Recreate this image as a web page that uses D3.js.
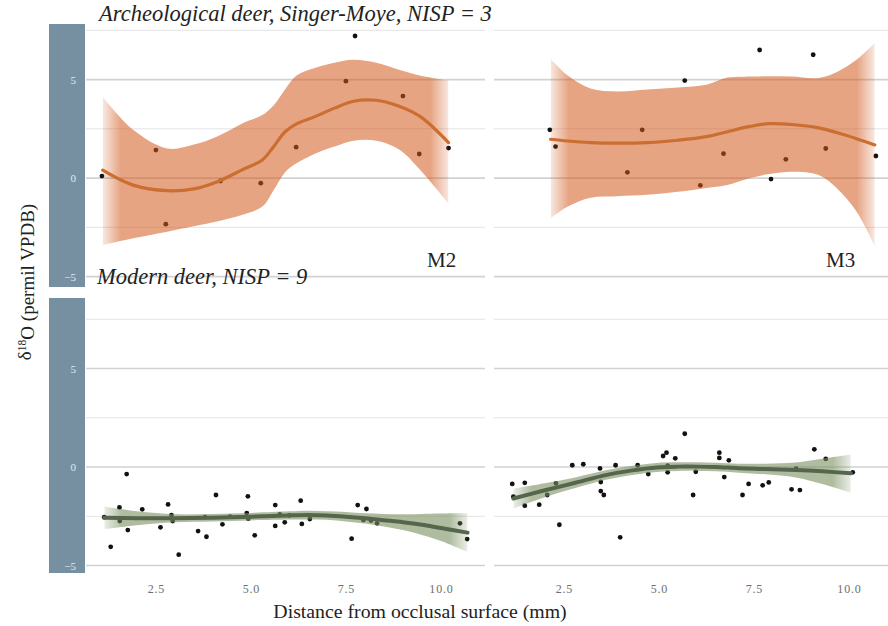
<!DOCTYPE html>
<html>
<head>
<meta charset="utf-8">
<script src="https://cdn.jsdelivr.net/npm/d3@7"></script>
<style>
  html, body { margin: 0; padding: 0; background: #fff; }
  svg { display: block; }
</style>
</head>
<body>
<svg id="chart" width="888" height="626"></svg>
<script>
// ---- measurements: δ18O (permil VPDB) by distance from occlusal surface (mm) ----

// Archeological deer, M2
const archM2X = [1.08, 2.5, 2.76, 4.2, 5.26, 6.19, 7.5, 7.74, 9.0, 9.43, 10.2];
const archM2Y = [0.1, 1.42, -2.34, -0.15, -0.26, 1.57, 4.92, 7.21, 4.16, 1.22, 1.52];
// Archeological deer, M3
const archM3X = [2.13, 2.28, 4.17, 4.56, 5.68, 6.09, 6.7, 7.65, 7.95, 8.34, 9.06, 9.39, 10.71];
const archM3Y = [2.45, 1.6, 0.29, 2.45, 4.95, -0.37, 1.24, 6.5, -0.05, 0.95, 6.26, 1.5, 1.12];
// Modern deer, M2
const modM2X = [1.14, 1.31, 1.54, 1.55, 1.73, 1.76, 2.14, 2.62, 2.82, 2.91, 2.94, 3.1, 3.61, 3.79, 3.83,
  4.08, 4.25, 4.45, 4.89, 4.92, 4.93, 5.1, 5.64, 5.64, 5.76, 5.89, 6.01, 6.31, 6.34, 6.55,
  7.65, 7.81, 7.96, 8.04, 8.16, 8.32, 10.5, 10.69];
const modM2Y = [-2.55, -4.05, -2.05, -2.74, -0.36, -3.2, -2.15, -3.06, -1.9, -2.44, -2.74, -4.45, -3.25, -2.55, -3.54,
  -1.42, -2.91, -2.52, -2.34, -1.49, -2.62, -3.47, -1.93, -2.99, -2.4, -2.81, -2.45, -1.71, -2.89, -2.64,
  -3.64, -1.93, -2.69, -2.13, -2.72, -2.86, -2.86, -3.66];
// Modern deer, M3
const modM3X = [1.14, 1.17, 1.47, 1.47, 1.85, 2.06, 2.29, 2.38, 2.72, 3.01, 3.45, 3.47, 3.47, 3.55, 3.86,
  3.98, 4.44, 4.72, 5.11, 5.2, 5.23, 5.23, 5.43, 5.68, 5.9, 5.97, 6.59, 6.59, 6.72, 6.84,
  7.2, 7.36, 7.73, 7.89, 8.49, 8.61, 8.71, 9.09, 9.39, 10.1];
const modM3Y = [-0.86, -1.51, -0.8, -1.96, -1.91, -1.42, -0.83, -2.93, 0.09, 0.14, -0.07, -0.76, -1.22, -1.42, 0.09,
  -3.57, 0.09, -0.36, 0.56, 0.73, 0.07, -0.27, 0.44, 1.69, -1.42, -0.24, 0.73, 0.46, -0.51, 0.34,
  -1.42, -0.86, -0.93, -0.78, -1.13, -0.08, -1.17, 0.9, 0.41, -0.27];

// ---- smoothed trends with confidence bands ----
const archM2FitX = [1.1, 1.9, 2.8, 3.5, 4.1, 4.8, 5.3, 5.6, 5.9, 6.2, 6.7, 7.2, 7.7, 8.3, 8.9, 9.45, 10.2];
const archM2Fit  = [0.4, -0.36, -0.64, -0.55, -0.2, 0.45, 0.92, 1.6, 2.35, 2.75, 3.13, 3.55, 3.9, 3.95, 3.65, 3.13, 1.8];
const archM2Hi   = [4.13, 2.45, 1.5, 1.7, 2.1, 2.8, 3.2, 3.7, 4.5, 5.2, 5.6, 5.85, 6.0, 5.85, 5.5, 5.2, 4.95];
const archM2Lo   = [-3.4, -3.06, -2.72, -2.45, -2.21, -1.85, -1.45, -0.6, 0.3, 0.75, 1.25, 1.6, 1.9, 1.9, 1.45, 0.42, -1.3];

const archM3FitX = [2.15, 2.6, 3.2, 3.9, 4.7, 5.5, 6.25, 6.8, 7.4, 7.9, 8.5, 9.2, 9.7, 10.2, 10.68];
const archM3Fit  = [1.97, 1.88, 1.8, 1.77, 1.8, 1.92, 2.1, 2.35, 2.62, 2.76, 2.72, 2.55, 2.3, 2.0, 1.68];
const archM3Hi   = [6.05, 5.2, 4.55, 4.4, 4.5, 4.6, 4.74, 5.1, 5.15, 5.17, 5.15, 5.08, 5.4, 6.0, 6.85];
const archM3Lo   = [-2.05, -1.45, -1.0, -0.92, -0.85, -0.7, -0.5, -0.35, 0.0, 0.2, 0.32, 0.15, -0.55, -1.7, -3.45];

const modM2FitX = [1.14, 2.0, 3.0, 4.0, 5.0, 6.0, 6.5, 7.0, 7.5, 8.0, 8.5, 9.0, 9.5, 10.0, 10.7];
const modM2Fit  = [-2.58, -2.6, -2.6, -2.57, -2.52, -2.46, -2.44, -2.46, -2.52, -2.6, -2.7, -2.8, -2.93, -3.1, -3.33];
const modM2Hi   = [-2.0, -2.25, -2.4, -2.38, -2.33, -2.25, -2.22, -2.24, -2.28, -2.35, -2.38, -2.4, -2.38, -2.36, -2.35];
const modM2Lo   = [-3.15, -2.95, -2.8, -2.76, -2.71, -2.67, -2.66, -2.68, -2.76, -2.87, -3.02, -3.2, -3.45, -3.75, -4.3];

const modM3FitX = [1.17, 2.0, 2.8, 3.6, 4.3, 4.94, 5.5, 6.0, 6.5, 7.1, 7.8, 8.6, 9.3, 10.05];
const modM3Fit  = [-1.6, -1.18, -0.8, -0.41, -0.17, -0.02, 0.02, 0.02, 0.0, -0.06, -0.1, -0.15, -0.22, -0.32];
const modM3Hi   = [-1.1, -0.83, -0.53, -0.17, 0.06, 0.21, 0.24, 0.24, 0.22, 0.17, 0.17, 0.23, 0.42, 0.63];
const modM3Lo   = [-2.1, -1.53, -1.07, -0.65, -0.4, -0.25, -0.2, -0.2, -0.22, -0.29, -0.37, -0.53, -0.86, -1.3];

// ---- axis ticks and labels ----
const xTicks = [2.5, 5.0, 7.5, 10.0];
const yMajor = [-5, 0, 5];
const yMinor = [-2.5, 2.5, 7.5];
const rowTitles = ["Archeological deer, Singer-Moye, NISP = 3", "Modern deer, NISP = 9"];
const toothLabels = ["M2", "M3"];
const xTitle = "Distance from occlusal surface (mm)";

const SERIF = "'Liberation Serif'";

// ---- layout ----
const svg = d3.select("#chart");
const defs = svg.append("defs");

const xScales = [
  d3.scaleLinear().domain([0.66, 11.16]).range([86, 485]),
  d3.scaleLinear().domain([0.66, 11.16]).range([494, 893])
];
const yScales = [
  d3.scaleLinear().domain([-5.53, 7.82]).range([287, 24]),
  d3.scaleLinear().domain([-5.38, 8.58]).range([573, 298])
];

const styles = [
  { fill: "#d25a1e", fillOpacity: 0.55, line: "#cb6e30", lineWidth: 3.2 },
  { fill: "#7a8f61", fillOpacity: 0.6, line: "#56664c", lineWidth: 4 }
];

const panels = [
  { row: 0, col: 0, px: archM2X, py: archM2Y, fx: archM2FitX, f: archM2Fit, hi: archM2Hi, lo: archM2Lo },
  { row: 0, col: 1, px: archM3X, py: archM3Y, fx: archM3FitX, f: archM3Fit, hi: archM3Hi, lo: archM3Lo },
  { row: 1, col: 0, px: modM2X, py: modM2Y, fx: modM2FitX, f: modM2Fit, hi: modM2Hi, lo: modM2Lo },
  { row: 1, col: 1, px: modM3X, py: modM3Y, fx: modM3FitX, f: modM3Fit, hi: modM3Hi, lo: modM3Lo }
];

// row strips carrying the y tick labels
[0, 1].forEach(r => {
  const y = yScales[r];
  svg.append("rect")
    .attr("x", 49).attr("y", y.range()[1])
    .attr("width", 36).attr("height", y.range()[0] - y.range()[1])
    .attr("fill", "#7690a1");
  const ax = svg.append("g")
    .attr("transform", "translate(78,0)")
    .call(d3.axisLeft(y).tickValues(yMajor).tickSize(0).tickPadding(2));
  ax.select(".domain").remove();
  ax.attr("font-family", SERIF);
  ax.selectAll("text")
    .attr("fill", "#e3e9ee")
    .style("font-family", SERIF)
    .style("font-size", "11px");
});

// horizontal grid lines
panels.forEach(p => {
  const x = xScales[p.col], y = yScales[p.row];
  const g = svg.append("g");
  g.selectAll("line.minor").data(yMinor).join("line")
    .attr("x1", x.range()[0]).attr("x2", x.range()[1])
    .attr("y1", d => y(d)).attr("y2", d => y(d))
    .attr("stroke", "#e3e3e3").attr("stroke-width", 1);
  g.selectAll("line.major").data(yMajor).join("line")
    .attr("x1", x.range()[0]).attr("x2", x.range()[1])
    .attr("y1", d => y(d)).attr("y2", d => y(d))
    .attr("stroke", "#d2d2d2").attr("stroke-width", 1.7);
});

// points, then translucent band, then trend line
panels.forEach((p, i) => {
  const x = xScales[p.col], y = yScales[p.row], st = styles[p.row];
  const g = svg.append("g");

  g.selectAll("circle").data(p.px.map((v, k) => [v, p.py[k]])).join("circle")
    .attr("cx", d => x(d[0])).attr("cy", d => y(d[1]))
    .attr("r", 2.4).attr("fill", "#111");

  const band = p.fx.map((v, k) => ({ x: v, hi: p.hi[k], lo: p.lo[k] }));
  const x0 = x(p.fx[0]), x1 = x(p.fx[p.fx.length - 1]);
  const fade = 18 / (x1 - x0);

  const grad = defs.append("linearGradient")
    .attr("id", "fade" + i)
    .attr("gradientUnits", "userSpaceOnUse")
    .attr("x1", x0).attr("x2", x1).attr("y1", 0).attr("y2", 0);
  [[0, 0.25], [fade, 1], [1 - fade, 1], [1, 0.25]].forEach(s =>
    grad.append("stop").attr("offset", s[0]).attr("stop-color", "#fff").attr("stop-opacity", s[1]));
  defs.append("mask").attr("id", "mask" + i)
    .attr("maskUnits", "userSpaceOnUse")
    .attr("x", 0).attr("y", 0).attr("width", 888).attr("height", 626)
    .append("rect")
    .attr("x", x0).attr("y", 0).attr("width", x1 - x0).attr("height", 626)
    .attr("fill", "url(#fade" + i + ")");

  const area = d3.area()
    .x(d => x(d.x)).y0(d => y(d.lo)).y1(d => y(d.hi))
    .curve(d3.curveCatmullRom.alpha(0.5));
  g.append("path").datum(band)
    .attr("d", area)
    .attr("fill", st.fill).attr("fill-opacity", st.fillOpacity)
    .attr("mask", "url(#mask" + i + ")");

  const line = d3.line().x(d => x(d[0])).y(d => y(d[1]))
    .curve(d3.curveCatmullRom.alpha(0.5));
  g.append("path").datum(p.fx.map((v, k) => [v, p.f[k]]))
    .attr("d", line)
    .attr("fill", "none").attr("stroke", st.line)
    .attr("stroke-width", st.lineWidth).attr("stroke-linecap", "round");
});

// x tick labels under the bottom row
[0, 1].forEach(c => {
  const ax = svg.append("g")
    .attr("transform", "translate(0,581)")
    .call(d3.axisBottom(xScales[c]).tickValues(xTicks).tickFormat(d3.format(".1f")).tickSize(0).tickPadding(3));
  ax.select(".domain").remove();
  ax.attr("font-family", SERIF);
  ax.selectAll("text")
    .attr("fill", "#6e6e6e")
    .style("font-family", SERIF)
    .style("font-size", "12px")
    .style("letter-spacing", "0.8px");
});

// row titles and tooth labels
svg.append("text").attr("x", 99).attr("y", 21)
  .style("font-family", SERIF).style("font-style", "italic").style("font-size", "22.5px").attr("fill", "#222")
  .text(rowTitles[0]);
svg.append("text").attr("x", 97).attr("y", 284)
  .style("font-family", SERIF).style("font-style", "italic").style("font-size", "22.5px").attr("fill", "#222")
  .text(rowTitles[1]);
svg.append("text").attr("x", 427).attr("y", 267)
  .style("font-family", SERIF).style("font-size", "21px").attr("fill", "#222").text(toothLabels[0]);
svg.append("text").attr("x", 826).attr("y", 267)
  .style("font-family", SERIF).style("font-size", "21px").attr("fill", "#222").text(toothLabels[1]);

// axis titles
svg.append("text")
  .attr("x", 420).attr("y", 618).attr("text-anchor", "middle")
  .style("font-family", SERIF).style("font-size", "19.8px").attr("fill", "#222")
  .text(xTitle);

const yt = svg.append("text")
  .attr("transform", "translate(31,282) rotate(-90)")
  .attr("text-anchor", "middle")
  .style("font-family", SERIF).style("font-size", "19px").attr("fill", "#222");
yt.append("tspan").text("δ");
yt.append("tspan").attr("dy", "-0.45em").style("font-size", "11.5px").text("18");
yt.append("tspan").attr("dy", "0.45em").text("O  (permil VPDB)");
</script>
</body>
</html>
